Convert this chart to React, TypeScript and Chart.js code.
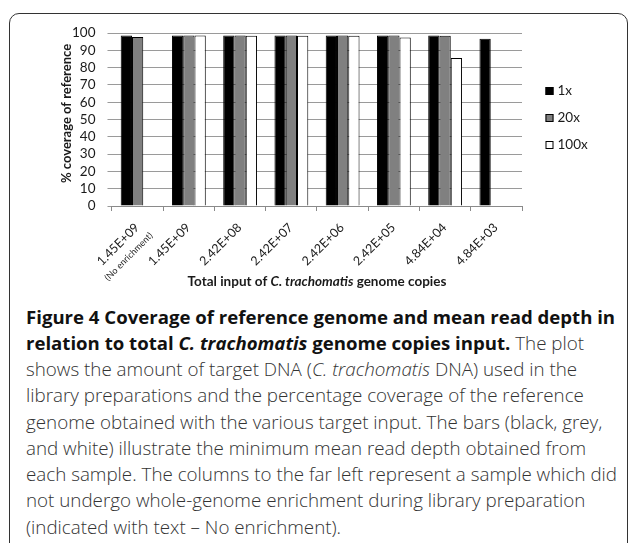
import React, { useEffect, useRef } from 'react';
import { Chart, registerables } from 'chart.js';

Chart.register(...registerables);

// ---------- data ----------
const categories = ['1.45E+09', '1.45E+09', '2.42E+08', '2.42E+07', '2.42E+06', '2.42E+05', '4.84E+04', '4.84E+03'];
const categoryNotes = ['(No enrichment)', '', '', '', '', '', '', ''];
const seriesNames = ['1x', '20x', '100x'];
const coverage1x = [98.6, 98.6, 98.6, 98.6, 98.6, 98.6, 98.6, 96.7];
const coverage20x = [97.7, 98.6, 98.6, 98.6, 98.6, 98.6, 98.4, 0.3];
const coverage100x = [0.3, 98.6, 98.4, 98.4, 98.4, 97.4, 85.5, 0];
const yTickMin = 0;
const yTickMax = 100;
const yTickStep = 10;
const yTitle = '% coverage of reference';
const xTitleParts = [
  { text: 'Total input of ', italic: false },
  { text: 'C. trachomatis', italic: true },
  { text: ' genome copies', italic: false },
];

// ---------- style ----------
const FONT = 'Lato, "Open Sans", sans-serif';
const CAPTION_FONT = '"Open Sans", Lato, sans-serif';
const seriesFill = ['#000000', '#808080', '#ffffff'];
const TEXT = '#1a1a1a';

const customText = {
  id: 'customText',
  afterDraw(chart: any) {
    const ctx = chart.ctx as CanvasRenderingContext2D;
    const xs = chart.scales.x;
    const area = chart.chartArea;

    // rotated category labels
    ctx.save();
    ctx.fillStyle = TEXT;
    categories.forEach((label, i) => {
      const px = xs.getPixelForTick(i);
      ctx.save();
      ctx.translate(px - 0.5, xs.top + 19.5);
      ctx.rotate(-Math.PI / 4);
      ctx.textAlign = 'right';
      ctx.textBaseline = 'middle';
      ctx.font = `12.5px ${FONT}`;
      ctx.fillText(label, 0, 0);
      const note = categoryNotes[i];
      if (note) {
        ctx.font = `9px ${FONT}`;
        ctx.fillText(note, 4, 16);
      }
      ctx.restore();
    });
    ctx.restore();

    // x-axis title with italic part
    ctx.save();
    ctx.fillStyle = TEXT;
    ctx.textBaseline = 'middle';
    ctx.textAlign = 'left';
    const fonts = xTitleParts.map((p) => `${p.italic ? 'italic ' : ''}bold 13.5px ${FONT}`);
    let total = 0;
    const widths = xTitleParts.map((p, i) => {
      ctx.font = fonts[i];
      const w = ctx.measureText(p.text).width;
      total += w;
      return w;
    });
    let x = (area.left + area.right) / 2 - total / 2;
    const ty = area.bottom + 76;
    xTitleParts.forEach((p, i) => {
      ctx.font = fonts[i];
      ctx.fillText(p.text, x, ty);
      x += widths[i];
    });
    ctx.restore();

    // y-axis title
    ctx.save();
    ctx.fillStyle = TEXT;
    ctx.font = `bold 13px ${FONT}`;
    ctx.textAlign = 'center';
    ctx.textBaseline = 'middle';
    ctx.translate(area.left - 45, area.top + (area.bottom - area.top) * 0.465);
    ctx.rotate(-Math.PI / 2);
    ctx.fillText(yTitle, 0, 0);
    ctx.restore();

    // legend
    ctx.save();
    const mid = (area.top + area.bottom) / 2 - 1.5;
    chart.data.datasets.forEach((ds: any, i: number) => {
      const cy = mid + (i - 1) * 27;
      const bx = area.right + 23.5;
      ctx.fillStyle = ds.backgroundColor;
      ctx.fillRect(bx, cy - 4, 8, 8);
      ctx.strokeStyle = '#000';
      ctx.lineWidth = 1;
      ctx.strokeRect(bx + 0.5, cy - 3.5, 7, 7);
      ctx.fillStyle = TEXT;
      ctx.font = `13.5px ${FONT}`;
      ctx.textAlign = 'left';
      ctx.textBaseline = 'middle';
      ctx.fillText(ds.label, bx + 12, cy);
    });
    ctx.restore();
  },
};

function ChartCanvas() {
  const ref = useRef<HTMLCanvasElement | null>(null);
  useEffect(() => {
    if (!ref.current) return;
    const values = [coverage1x, coverage20x, coverage100x];
    const chart = new Chart(ref.current, {
      type: 'bar',
      data: {
        labels: categories,
        datasets: seriesNames.map((name, i) => ({
          label: name,
          data: values[i],
          backgroundColor: seriesFill[i],
          borderColor: '#000000',
          borderWidth: 1,
          barPercentage: 1,
          categoryPercentage: 0.66,
        })),
      },
      options: {
        responsive: false,
        animation: false,
        devicePixelRatio: 1,
        layout: { padding: { left: 60, right: 107, top: 33, bottom: 89 } },
        plugins: {
          legend: { display: false },
          tooltip: { enabled: false },
          title: { display: false },
        },
        scales: {
          x: {
            grid: {
              offset: true,
              drawOnChartArea: false,
              drawTicks: true,
              tickLength: 5,
              color: '#8a8a8a',
            },
            border: { display: true, color: '#8a8a8a', width: 1 },
            ticks: { display: false },
          },
          y: {
            min: yTickMin,
            max: yTickMax,
            ticks: {
              stepSize: yTickStep,
              autoSkip: false,
              padding: 12,
              color: TEXT,
              font: { family: FONT, size: 13.5 },
            },
            grid: { color: '#9a9a9a', tickLength: 4.5, drawTicks: true },
            border: { display: false },
          },
        },
      },
      plugins: [customText],
    });
    return () => chart.destroy();
  }, []);
  return <canvas ref={ref} width={629} height={300} style={{ position: 'absolute', left: 0, top: 0, width: 629, height: 300 }} />;
}

const bold: React.CSSProperties = { fontWeight: 700, color: '#111', fontSize: 18.6 };

export default function App() {
  return (
    <div style={{ position: 'fixed', left: 0, top: 0, width: 629, height: 543, overflow: 'hidden', background: '#fff' }}>
      <div
        style={{
          position: 'absolute',
          left: 9,
          top: 13,
          width: 619,
          height: 620,
          border: '1.5px solid #333',
          borderRadius: 10,
          boxSizing: 'border-box',
        }}
      />
      <ChartCanvas />
      <div
        style={{
          position: 'absolute',
          left: 26,
          top: 303.5,
          fontFamily: CAPTION_FONT,
          fontSize: 18.8,
          lineHeight: '26.25px',
          color: '#333',
          whiteSpace: 'nowrap',
          fontWeight: 300,
        }}
      >
        <div style={bold}>Figure 4 Coverage of reference genome and mean read depth in</div>
        <div>
          <span style={bold}>
            relation to total <i>C. trachomatis</i> genome copies input.
          </span>{' '}
          The plot
        </div>
        <div>
          shows the amount of target DNA (<i>C. trachomatis</i> DNA) used in the
        </div>
        <div>library preparations and the percentage coverage of the reference</div>
        <div>genome obtained with the various target input. The bars (black, grey,</div>
        <div>and white) illustrate the minimum mean read depth obtained from</div>
        <div>each sample. The columns to the far left represent a sample which did</div>
        <div>not undergo whole-genome enrichment during library preparation</div>
        <div>(indicated with text – No enrichment).</div>
      </div>
    </div>
  );
}
